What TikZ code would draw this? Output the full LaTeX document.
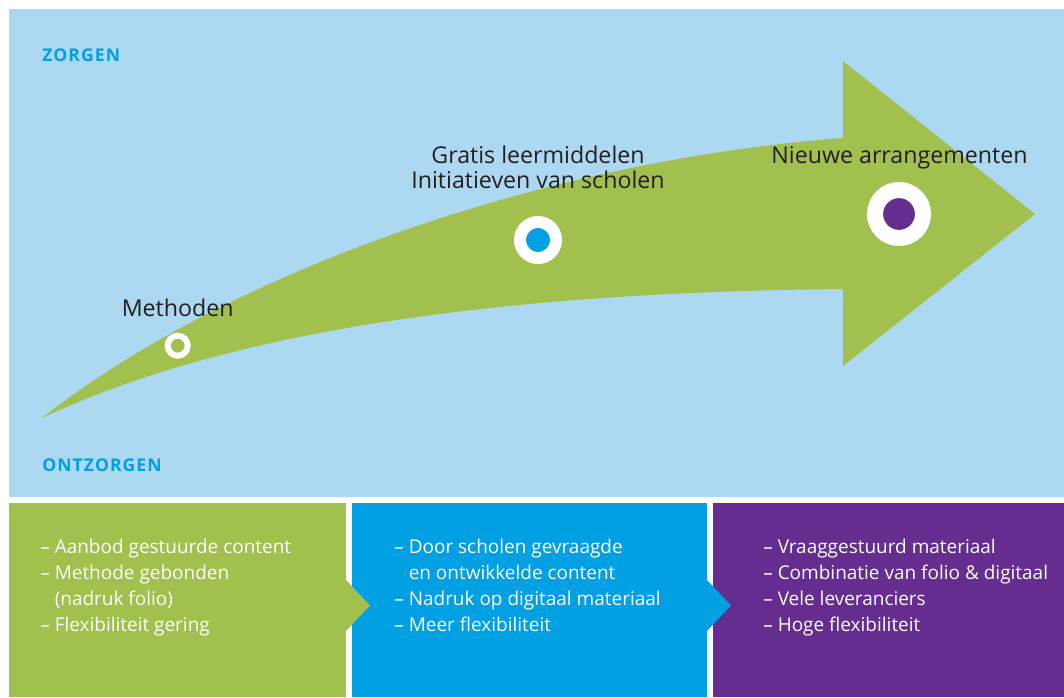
\documentclass[tikz,border=0pt]{standalone}
\usepackage{fontspec}
\setmainfont{Open Sans}
\usetikzlibrary{positioning}
\definecolor{lichtblauw}{RGB}{173,216,241}
\definecolor{groen}{RGB}{161,192,78}
\definecolor{helderblauw}{RGB}{0,160,227}
\definecolor{paars}{RGB}{102,45,145}
\definecolor{tekstgrijs}{RGB}{35,31,32}
\tikzstyle{hoek}=[anchor=base west,inner sep=0pt,text=helderblauw,font=\fontsize{10}{12}\selectfont\bfseries\addfontfeatures{LetterSpace=6}]
\tikzstyle{fase}=[anchor=base,inner sep=0pt,align=center,text=tekstgrijs,font=\fontsize{13.2}{14.2}\selectfont]
\tikzstyle{punt}=[circle,inner sep=0pt,draw=white]
\tikzstyle{lijst}=[anchor=base west,inner sep=0pt,align=left,text=white,font=\fontsize{10.8}{14.7}\selectfont]
\newcommand{\inspring}{\phantom{– }}

\begin{document}
\begin{tikzpicture}[x=0.02cm,y=-0.02cm]
  \useasboundingbox (0,0) rectangle (1064,697);
  \fill[white] (0,0) rectangle (1064,697);
  \fill[lichtblauw] (9,9) rectangle (1064,497);

  % pijl
  \fill[groen] (42,418) .. controls (230,270) and (550,160) .. (843,138)
    -- (843,61) -- (1035,214) -- (843,366) -- (843,289)
    .. controls (550,292) and (250,320) .. (42,418) -- cycle;

  \node[hoek] (zorgen) at (42,61) {ZORGEN};
  \node[hoek] (ontzorgen) at (42,471.5) {ONTZORGEN};

  \node[punt,fill=groen,line width=0.12cm,minimum size=0.4cm] (p1) at (177.7,345.7) {};
  \node[punt,fill=helderblauw,line width=0.24cm,minimum size=0.72cm] (p2) at (538,240) {};
  \node[punt,fill=paars,line width=0.32cm,minimum size=0.96cm] (p3) at (899,214) {};

  % bij multi-line nodes ligt base op de laatste regel
  \node[fase] (methoden) at (177.7,316.5) {Methoden};
  \node[fase] (gratis) at (538,188) {Gratis leermiddelen\\Initiatieven van scholen};
  \node[fase] (nieuw) at (899.5,163) {Nieuwe arrangementen};

  % onderste vakken
  \fill[groen] (9,503) rectangle (346,697);
  \fill[helderblauw] (352,503) rectangle (707,697);
  \fill[paars] (713,503) rectangle (1064,697);
  \fill[groen] (346,580) -- (370,605.5) -- (346,631) -- cycle;
  \fill[helderblauw] (707,580) -- (731,605.5) -- (707,631) -- cycle;

  \node[lijst] (aanbod) at (40,631) {– Aanbod gestuurde content\\– Methode gebonden\\\inspring(nadruk folio)\\– Flexibiliteit gering};
  \node[lijst] (scholen) at (394,631) {– Door scholen gevraagde\\\inspring en ontwikkelde content\\– Nadruk op digitaal materiaal\\– Meer flexibiliteit};
  \node[lijst] (vraag) at (763,631) {– Vraaggestuurd materiaal\\– Combinatie van folio \& digitaal\\– Vele leveranciers\\– Hoge flexibiliteit};
\end{tikzpicture}
\end{document}
